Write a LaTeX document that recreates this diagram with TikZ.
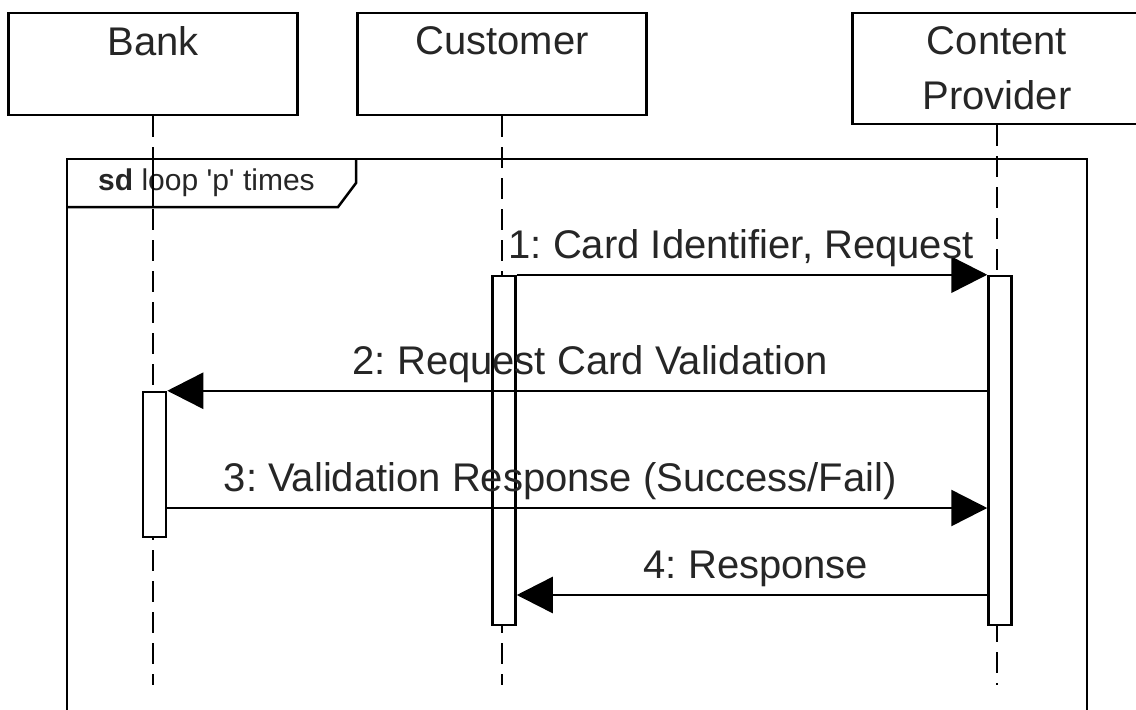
\documentclass[tikz,border=0pt]{standalone}
\usepackage{fontspec}
\setmainfont{Liberation Sans}
\usetikzlibrary{arrows.meta,positioning}
\frenchspacing

\begin{document}
\begin{tikzpicture}[x=1pt,y=-1pt]
	% Stiler for elementene
	\tikzstyle{hode}		= [rectangle, draw, line width=2.5pt, minimum width=289pt, minimum height=102pt, inner sep=0pt]
	\tikzstyle{navn}		= [font=\fontsize{40}{55}\selectfont, align=center, inner sep=0pt, anchor=north, text=black!85]
	\tikzstyle{livslinje}	= [line width=2.5pt, dash pattern=on 21pt off 10pt]
	\tikzstyle{aktiv}		= [rectangle, draw, line width=2.5pt, fill=white, minimum width=23pt, inner sep=0pt]
	\tikzstyle{melding}		= [line width=2.5pt, -{Triangle[length=36pt,width=36pt]}]
	\tikzstyle{meldingtekst}	= [font=\fontsize{40}{48}\selectfont, above=7pt, inner sep=0pt, text=black!85]

	\useasboundingbox (0,0) rectangle (1136,710);

	% Boksene i toppen
	\node[hode]	(bank)								at (153,64)	{};
	\node[hode]	(kunde)		[right of=bank,  node distance=349pt]		{};
	\node[hode, minimum height=111pt]	(leverandor)	at (997,68.5)	{};

	% Navn i boksene
	\node[navn] (bank_navn)		[below=15pt of bank.north]		{Bank};
	\node[navn] (kunde_navn)		[below=15pt of kunde.north]		{Customer};
	\node[navn] (leverandor_navn)	[below=15pt of leverandor.north]	{Content\\Provider};

	% Endepunkter for livslinjene
	\coordinate (bank_slutt)		at (153,685);
	\coordinate (kunde_slutt)		at (502,685);
	\coordinate (leverandor_slutt)	at (997,685);

	% Livslinjer
	\draw[livslinje] (bank.south)		-- (bank_slutt);
	\draw[livslinje] (kunde.south)		-- (kunde_slutt);
	\draw[livslinje] (leverandor.south)	-- (leverandor_slutt);

	% Rammen rundt lokken
	\draw[line width=2.5pt] (67,720) -- (67,159) -- (1087,159) -- (1087,720);
	\draw[line width=2.5pt] (67,207) -- (338,207) -- (356,183) -- (356,159);
	\node (ramme_tekst) [anchor=west, inner sep=0pt, font=\fontsize{30}{36}\selectfont, text=black!85] at (98,183)
		{\textbf{sd} loop \textquotesingle p\textquotesingle{} times};
	\draw[line width=2.5pt] (153,159) -- (153,207);

	% Aktiveringsstolper
	\node[aktiv, minimum height=349pt]	(kunde_aktiv)		at (504,450.5)	{};
	\node[aktiv, minimum height=349pt]	(leverandor_aktiv)	at (1000,450.5)	{};
	\node[aktiv, minimum height=145pt]	(bank_aktiv)		at (154.5,464.5)	{};

	% Hoyde for meldingene
	\coordinate (m3) at (0,508);
	\coordinate (m4) at (0,595);

	% Meldinger
	\draw[melding] (kunde_aktiv.north east) -- node[meldingtekst, xshift=-11pt] {1: Card Identifier, Request} (leverandor_aktiv.north west);
	\draw[melding] (leverandor_aktiv.west |- bank_aktiv.north) -- node[meldingtekst, xshift=13pt] {2: Request Card Validation} (bank_aktiv.north east);
	\draw[melding] (bank_aktiv.east |- m3) -- node[meldingtekst, xshift=-17pt] {3: Validation Response (Success/Fail)} (leverandor_aktiv.west |- m3);
	\draw[melding] (leverandor_aktiv.west |- m4) -- node[meldingtekst, xshift=4pt] {4: Response} (kunde_aktiv.east |- m4);

\end{tikzpicture}
\end{document}
